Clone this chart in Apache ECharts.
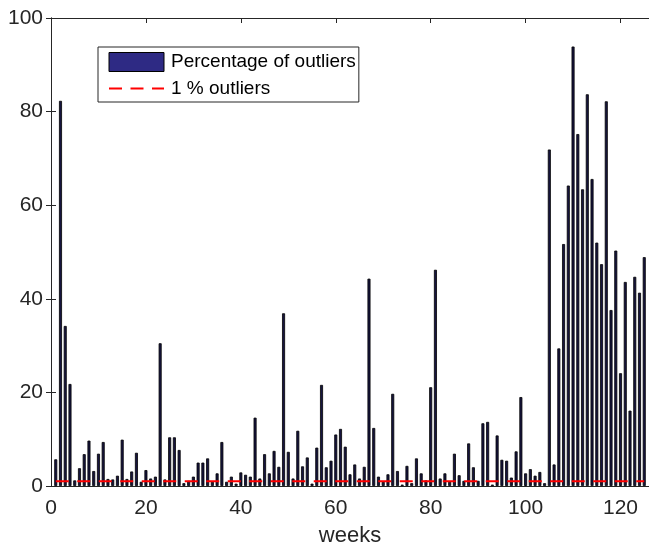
<!DOCTYPE html>
<html>
<head>
<meta charset="utf-8">
<script src="https://cdn.jsdelivr.net/npm/echarts@6/dist/echarts.min.js"></script>
<style>html,body{margin:0;padding:0;background:#fff;overflow:hidden}#c{width:652px;height:552px}</style>
</head>
<body>
<div id="c"></div>
<script>
// week index 1..125
var weeks = [];
for (var i = 1; i <= 125; i++) weeks.push(i);

var outlierPct = [
  5.7, 82.3, 34.2, 21.8, 1.2, 3.8, 6.8, 9.7, 3.2, 6.9,
  9.4, 1.5, 1.4, 2.2, 9.9, 1.5, 3.1, 7.1, 0.9, 3.4,
  1.6, 2.0, 30.5, 1.4, 10.4, 10.4, 7.7, 0.6, 1.1, 2.0,
  5.0, 5.0, 5.9, 0.9, 2.7, 9.4, 0.9, 2.0, 0.5, 2.9,
  2.4, 2.0, 14.6, 1.6, 6.8, 2.7, 7.5, 4.1, 36.9, 7.3,
  1.6, 11.8, 4.2, 6.1, 0.5, 8.2, 21.6, 4.0, 5.4, 11.0,
  12.2, 8.4, 2.5, 4.6, 1.6, 4.1, 44.3, 12.4, 2.0, 0.9,
  2.5, 19.7, 3.2, 0.3, 4.3, 0.6, 5.9, 2.7, 1.2, 21.1,
  46.2, 1.6, 2.7, 0.9, 6.9, 2.3, 1.1, 9.1, 4.0, 1.1,
  13.4, 13.7, 0.3, 10.8, 5.6, 5.4, 1.8, 7.4, 19.0, 2.7,
  3.6, 2.2, 3.0, 0.6, 71.9, 4.6, 29.4, 51.7, 64.2, 93.9,
  75.2, 63.4, 83.7, 65.6, 52.0, 47.4, 82.2, 37.6, 50.3, 24.1,
  43.6, 16.1, 44.7, 41.3, 48.9
];

var threshold = 1;
var xTicks = [0, 20, 40, 60, 80, 100, 120];
var yTicks = [0, 20, 40, 60, 80, 100];

var FONT = '"Liberation Sans", Arial, Helvetica, sans-serif';
var AX = '#262626';

var barData = weeks.map(function (w, i) { return [w, outlierPct[i]]; });
var lineData = weeks.map(function (w) { return [w, threshold]; });

var chart = echarts.init(document.getElementById('c'), null, {renderer: 'canvas'});

var commonX = {
  type: 'value', min: 0, max: 126, interval: 20,
  axisLine: {show: true, onZero: false, lineStyle: {color: AX, width: 1}},
  axisTick: {show: true, inside: true, length: 5, lineStyle: {color: AX}},
  splitLine: {show: false}
};
var commonY = {
  type: 'value', min: 0, max: 100, interval: 20,
  axisLine: {show: true, lineStyle: {color: AX, width: 1}},
  axisTick: {show: true, inside: true, length: 5, lineStyle: {color: AX}},
  splitLine: {show: false}
};

chart.setOption({
  animation: false,
  backgroundColor: '#fff',
  textStyle: {fontFamily: FONT},
  grid: {left: 51, right: 1, top: 18, bottom: 61, containLabel: false},
  xAxis: [
    Object.assign({}, commonX, {
      position: 'bottom',
      name: 'weeks', nameLocation: 'middle', nameGap: 39,
      nameTextStyle: {fontFamily: FONT, fontSize: 22, color: AX},
      axisLabel: {show: true, margin: 12, fontFamily: FONT, fontSize: 21, color: AX,
        formatter: function (v) { return xTicks.indexOf(v) >= 0 ? String(v) : ''; }}
    }),
    Object.assign({}, commonX, {position: 'top', axisLabel: {show: false}})
  ],
  yAxis: [
    Object.assign({}, commonY, {
      position: 'left',
      axisLabel: {show: true, margin: 8, fontFamily: FONT, fontSize: 21, color: AX,
        formatter: function (v) { return yTicks.indexOf(v) >= 0 ? String(v) : ''; }}
    }),
    Object.assign({}, commonY, {position: 'right', axisLabel: {show: false}})
  ],
  legend: {
    show: true,
    orient: 'vertical',
    left: 98, top: 47,
    padding: [5, 3, 4, 10],
    itemGap: 7,
    itemWidth: 55, itemHeight: 19,
    backgroundColor: '#fff',
    borderColor: '#262626', borderWidth: 1, borderRadius: 0,
    textStyle: {fontFamily: FONT, fontSize: 19, color: '#000', padding: [0, 0, 0, 2]},
    data: [
      {name: 'Percentage of outliers', icon: 'rect', itemStyle: {color: '#2e2a84', borderColor: '#000', borderWidth: 1}},
      {name: '1 % outliers', itemStyle: {color: 'rgba(0,0,0,0)', borderColor: 'rgba(0,0,0,0)', borderWidth: 0}}
    ]
  },
  series: [
    {
      name: 'Percentage of outliers',
      type: 'bar',
      xAxisIndex: 0, yAxisIndex: 0,
      data: barData,
      barWidth: 3.0,
      itemStyle: {color: '#16143e', borderColor: '#000', borderWidth: 0.8}
    },
    {
      name: '1 % outliers',
      type: 'line',
      xAxisIndex: 0, yAxisIndex: 0,
      data: lineData,
      symbol: 'none',
      showSymbol: false,
      z: 5,
      lineStyle: {color: '#ff0000', width: 2, type: [13, 8.5]},
      itemStyle: {color: '#ff0000'}
    }
  ]
});
</script>
</body>
</html>
